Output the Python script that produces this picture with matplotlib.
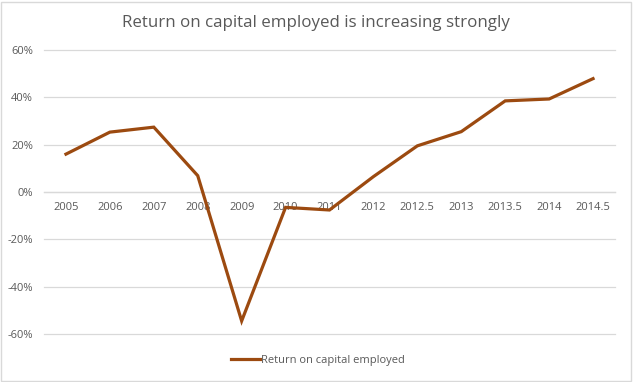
import matplotlib
matplotlib.use("Agg")
import matplotlib.pyplot as plt
from matplotlib.ticker import FuncFormatter
from matplotlib.patches import Rectangle

categories = ["2005", "2006", "2007", "2008", "2009", "2010", "2011", "2012",
              "2012.5", "2013", "2013.5", "2014", "2014.5"]
roce = [16, 25.3, 27.4, 6.9, -54.5, -6.5, -7.6, 6.5, 19.5, 25.5, 38.5, 39.3, 47.9]
yticks = [-60, -40, -20, 0, 20, 40, 60]
title = "Return on capital employed is increasing strongly"
series_name = "Return on capital employed"

W, H = 633, 382
fig = plt.figure(figsize=(W / 100, H / 100), dpi=100)
fig.patch.set_facecolor("white")
ax = fig.add_axes([44 / W, 1 - 334 / H, (615 - 44) / W, (334 - 50) / H])

text_col = "#595959"
line_col = "#9C4A10"
font = "Open Sans"

x = list(range(len(categories)))
ax.plot(x, roce, color=line_col, lw=2.3, solid_joinstyle="miter", label=series_name, zorder=3)

ax.set_xlim(-0.5, len(categories) - 0.5)
ax.set_ylim(-60, 60)
ax.set_yticks(yticks)
ax.yaxis.set_major_formatter(FuncFormatter(lambda v, p: f"{int(v)}%"))
ax.grid(axis="y", color="#D9D9D9", lw=0.9, zorder=0)
for gl in ax.get_ygridlines():
    gl.set_clip_on(False)
ax.set_xticks(x)
ax.set_xticklabels(categories)
for s in ["top", "right", "left"]:
    ax.spines[s].set_visible(False)
ax.spines["bottom"].set_position(("data", 0))
ax.spines["bottom"].set_color("#D9D9D9")
ax.spines["bottom"].set_linewidth(0.9)
ax.tick_params(axis="both", length=0, labelcolor=text_col, labelsize=8)
ax.tick_params(axis="x", pad=7)
ax.tick_params(axis="y", pad=8)
for lab in ax.get_xticklabels() + ax.get_yticklabels():
    lab.set_fontfamily(font)

fig.text(316 / W, 1 - 23 / H, title, ha="center", va="center", fontsize=12.2,
         color=text_col, family=font)

leg = fig.legend(loc="center", bbox_to_anchor=(318 / W, 1 - 360 / H), frameon=False,
                 handlelength=2.6, handletextpad=0.1,
                 prop={"family": font, "size": 8})
for t in leg.get_texts():
    t.set_color(text_col)

fig.patches.append(Rectangle((1 / W, 1 / H), 1 - 3 / W, 1 - 3 / H, transform=fig.transFigure,
                             fill=False, edgecolor="#D9D9D9", lw=1))

fig.savefig("out.png", dpi=100)
